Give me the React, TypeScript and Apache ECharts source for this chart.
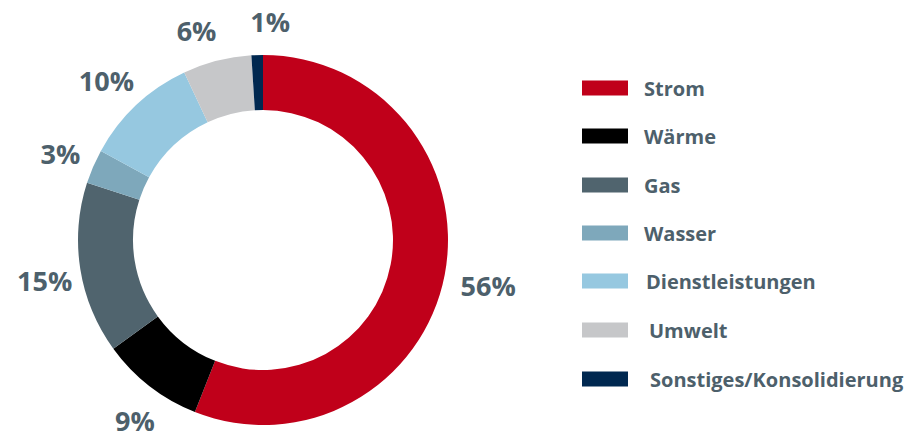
import React, { useEffect, useRef } from "react";
import * as echarts from "echarts";

const categories = ["Strom", "Wärme", "Gas", "Wasser", "Dienstleistungen", "Umwelt", "Sonstiges/Konsolidierung"];
const values = [56, 9, 15, 3, 10, 6, 1];
const colors = ["#c0001a", "#000000", "#50646e", "#7ea8bb", "#96c8e0", "#c6c7c9", "#002850"];
const legendTops = [78, 126, 175, 223, 271, 320, 369];
const legendTextGaps = [11, 11, 11, 11, 13, 16, 17];
// label nudges [dx, dy] to follow the reference's hand-placed labels
const labelShifts = [[12, 0], [5, 4], [-4, 2], [-3.5, -5], [-8, -6], [-12.5, -4], [14, -7]];

const textColor = "#4d606b";
const fontFamily = "'Open Sans', sans-serif";

export default function App() {
  const ref = useRef<HTMLDivElement>(null);
  useEffect(() => {
    document.body.style.margin = "0";
    const chart = echarts.init(ref.current!, undefined, { renderer: "svg" });
    const data = categories.map((name, i) => ({ name, value: values[i], itemStyle: { color: colors[i] } }));
    chart.setOption({
      animation: false,
      backgroundColor: "#ffffff",
      legend: categories.map((name, i) => ({
        data: [name],
        left: 582,
        top: legendTops[i],
        padding: 0,
        orient: "vertical",
        itemWidth: 46,
        itemHeight: 15,
        icon: "rect",
        selectedMode: false,
        textStyle: {
          color: textColor,
          fontFamily,
          fontWeight: "bold",
          fontSize: 20,
          lineHeight: 15,
          padding: [0, 0, 0, legendTextGaps[i]],
        },
      })),
      series: [
        {
          type: "pie",
          center: [263, 240],
          radius: [130, 185],
          startAngle: 90,
          clockwise: true,
          silent: true,
          label: { show: false },
          labelLine: { show: false },
          data,
        },
        {
          type: "pie",
          center: [263, 245],
          radius: [194, 234],
          startAngle: 90,
          clockwise: true,
          silent: true,
          itemStyle: { color: "rgba(0,0,0,0)" },
          label: {
            show: true,
            position: "inside",
            formatter: "{c}%",
            color: textColor,
            fontFamily,
            fontWeight: "bold",
            fontSize: 27,
            lineHeight: 24,
          },
          labelLine: { show: false },
          labelLayout: (params: any) => ({
            dx: labelShifts[params.dataIndex][0],
            dy: labelShifts[params.dataIndex][1],
          }),
          data: categories.map((name, i) => ({ name: name + "_lbl", value: values[i] })),
        },
      ],
    });
    return () => chart.dispose();
  }, []);
  return <div ref={ref} style={{ position: "absolute", left: 0, top: 0, width: 907, height: 434 }} />;
}
